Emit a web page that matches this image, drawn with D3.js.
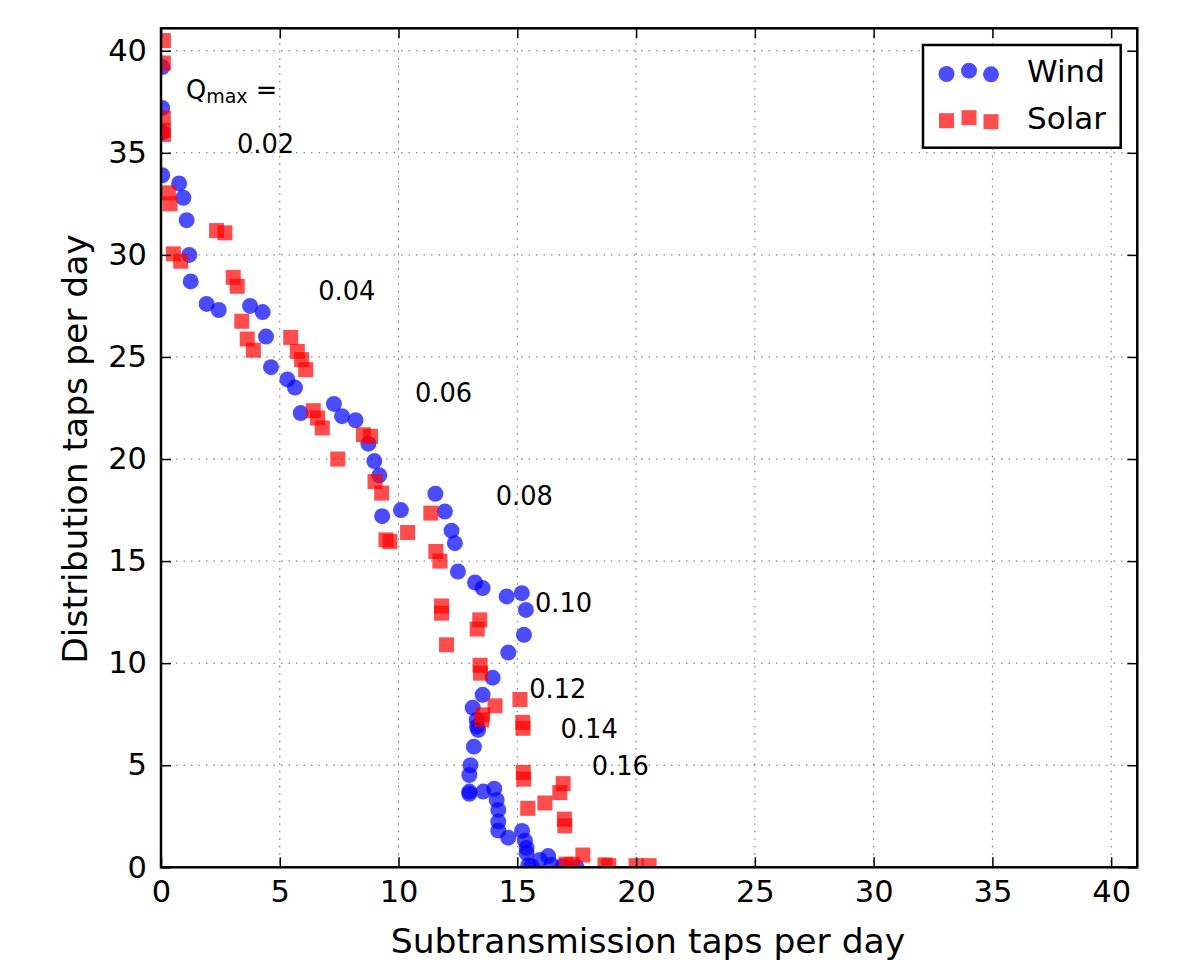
<!DOCTYPE html>
<meta charset="utf-8">

<style>
body { margin: 0; background: #fff; }
text { font-family: "DejaVu Sans", sans-serif; }
.grid line { stroke: #666; stroke-width: 1; stroke-dasharray: 1.5,6; }
.tickLabel { font-size: 30.5px; }
.axisLabel { font-size: 34.5px; }
.legendLabel { font-size: 31px; }
.note { font-size: 25.7px; }
</style>

<svg width="1196" height="970"></svg>

<script src="https://cdn.jsdelivr.net/npm/d3@7"></script>
<script>

//data
const windX = [0.05, 0.05, 0.05, 0.05, 0.76, 0.94, 1.08, 1.19, 1.25, 1.92, 2.43, 3.75, 4.28, 4.42, 4.63,
  5.32, 5.64, 5.88, 7.28, 7.62, 8.19, 8.73, 8.98, 9.19, 9.31, 10.1, 11.55, 11.95, 12.23, 12.37, 12.5,
  13.22, 13.54, 14.55, 15.19, 15.36, 15.28, 14.62, 13.96, 13.54, 13.12, 13.29, 13.35, 13.3, 13.17,
  13.03, 12.98, 12.98, 12.98, 13.57, 14.03, 14.13, 14.2, 14.2, 14.2, 14.62, 15.2, 15.32, 15.39, 15.39,
  15.46, 15.95, 16.3, 16.44, 17.5, 15.6, 16.9]
const windY = [39.2, 37.2, 36.0, 33.9, 33.5, 32.8, 31.7, 30.0, 28.7, 27.6, 27.3, 27.5, 27.2, 26.0, 24.5,
  23.9, 23.5, 22.25, 22.7, 22.1, 21.9, 20.75, 19.9, 19.2, 17.2, 17.5, 18.3, 17.43, 16.49, 15.88, 14.49,
  13.95, 13.68, 13.27, 13.43, 12.61, 11.39, 10.52, 9.29, 8.45, 7.82, 7.22, 6.73, 6.9, 5.91,
  5.0, 4.52, 3.71, 3.6, 3.71, 3.85, 3.3, 2.81, 2.24, 1.8, 1.45, 1.78, 1.3, 0.95, 0.69,
  0.1, 0.36, 0.55, 0.12, 0.0, 0.05, 0.05]

const solarX = [0.1, 0.1, 0.1, 0.1, 0.1, 0.31, 0.38, 0.52, 0.83, 2.34, 2.69, 3.04, 3.21, 3.4, 3.63, 3.89,
  5.46, 5.74, 5.92, 6.09, 6.41, 6.59, 6.79, 7.44, 8.52, 8.82, 9.01, 9.29, 9.47, 9.64, 10.38, 11.36,
  11.57, 11.74, 11.81, 11.81, 12.02, 13.42, 13.31, 13.43, 13.45, 13.54, 13.5, 14.06, 15.11, 15.23,
  15.24, 15.25, 15.27, 15.44, 16.16, 16.79, 16.93, 16.98, 17.0, 17.76, 17.05, 17.3, 18.69, 18.85,
  20.0, 20.55]
const solarY = [40.5, 39.4, 36.7, 36.1, 35.9, 33.04, 32.5, 30.05, 29.69, 31.19, 31.08, 28.9, 28.46, 26.75, 25.88, 25.33,
  25.96, 25.27, 24.87, 24.38, 22.37, 22.01, 21.52, 20.0, 21.19, 21.11, 18.9, 18.33, 16.04, 15.96, 16.4, 17.35,
  15.47, 15.0, 12.8, 12.45, 10.9, 12.12, 11.67, 9.9, 9.51, 7.47, 7.22, 7.91, 8.22, 7.1,
  6.81, 4.65, 4.32, 2.89, 3.15, 3.66, 4.1, 2.36, 2.03, 0.6, 0.15, 0.15, 0.12, 0.08,
  0.08, 0.08]

//Q_max annotations: label, x, y (data units, left / baseline)
const qLabels = ["0.02", "0.04", "0.06", "0.08", "0.10", "0.12", "0.14", "0.16"]
const qX = [3.2, 6.62, 10.69, 14.09, 15.74, 15.5, 16.82, 18.13]
const qY = [35.0, 27.8, 22.8, 17.76, 12.5, 8.28, 6.32, 4.52]

const ticks = [0, 5, 10, 15, 20, 25, 30, 35, 40]

/////////////////////////////////////////////////
const svg = d3.select("svg")
const margin = {left: 161, top: 28.3, right: 1196 - 1137.3, bottom: 970 - 867.3}
const width = 1196 - margin.left - margin.right,
    height = 970 - margin.top - margin.bottom

const x = d3.scaleLinear().domain([0, 41.1]).range([0, width])
const y = d3.scaleLinear().domain([0, 41.1]).range([height, 0])

const g = svg.append("g")
    .attr("transform", `translate(${margin.left}, ${margin.top})`)

svg.append("defs").append("clipPath")
    .attr("id", "plotClip")
  .append("rect")
    .attr("width", width)
    .attr("height", height)

//dotted grid
const grid = g.append("g").attr("class", "grid")
grid.selectAll(".gx").data(ticks.slice(1)).enter().append("line")
    .attr("x1", d => x(d)).attr("x2", d => x(d))
    .attr("y1", 0).attr("y2", height)
grid.selectAll(".gy").data(ticks.slice(1)).enter().append("line")
    .attr("y1", d => y(d)).attr("y2", d => y(d))
    .attr("x1", 0).attr("x2", width)

//points
const pts = g.append("g").attr("clip-path", "url(#plotClip)")
pts.selectAll(".wind")
    .data(windX.map((d, i) => [d, windY[i]]))
    .enter().append("circle")
    .attr("cx", d => x(d[0]))
    .attr("cy", d => y(d[1]))
    .attr("r", 8)
    .attr("fill", "blue")
    .attr("fill-opacity", 0.7)

const sq = 15
pts.selectAll(".solar")
    .data(solarX.map((d, i) => [d, solarY[i]]))
    .enter().append("rect")
    .attr("x", d => x(d[0]) - sq / 2)
    .attr("y", d => y(d[1]) - sq / 2)
    .attr("width", sq)
    .attr("height", sq)
    .attr("fill", "red")
    .attr("fill-opacity", 0.7)

//inward ticks on all four sides
const tickLen = 10
const axisBottom = d3.axisBottom(x).tickValues(ticks).tickSizeInner(-tickLen).tickSizeOuter(0).tickPadding(13)
const axisTop = d3.axisTop(x).tickValues(ticks).tickSizeInner(-tickLen).tickSizeOuter(0).tickFormat("")
const axisLeft = d3.axisLeft(y).tickValues(ticks).tickSizeInner(-tickLen).tickSizeOuter(0).tickPadding(14)
const axisRight = d3.axisRight(y).tickValues(ticks).tickSizeInner(-tickLen).tickSizeOuter(0).tickFormat("")

function styleAxis(sel) {
  sel.select(".domain").remove()
  sel.selectAll(".tick line").attr("stroke", "#000").attr("stroke-width", 1.5)
  sel.selectAll(".tick text")
      .attr("class", "tickLabel")
      .attr("fill", "#000")
      .attr("font-family", "DejaVu Sans")
}

g.append("g").attr("transform", `translate(0, ${height})`).call(axisBottom).call(styleAxis)
g.append("g").call(axisTop).call(styleAxis)
g.append("g").call(axisLeft).call(styleAxis)
g.append("g").attr("transform", `translate(${width}, 0)`).call(axisRight).call(styleAxis)

//frame
g.append("rect")
    .attr("width", width)
    .attr("height", height)
    .attr("fill", "none")
    .attr("stroke", "#000")
    .attr("stroke-width", 2.5)

//Q_max annotations
const qm = g.append("text")
    .attr("class", "note")
    .attr("x", x(1.05))
    .attr("y", y(37.66))
qm.append("tspan").text("Q")
qm.append("tspan").attr("font-size", "19px").attr("dy", 4).text("max")
qm.append("tspan").attr("dy", -4).text(" =")

g.selectAll(".qlab")
    .data(qLabels)
    .enter().append("text")
    .attr("class", "note")
    .attr("x", (d, i) => x(qX[i]))
    .attr("y", (d, i) => y(qY[i]))
    .text(d => d)

//axis labels
svg.append("text")
    .attr("class", "axisLabel")
    .attr("x", 648)
    .attr("y", 953)
    .attr("text-anchor", "middle")
    .text("Subtransmission taps per day")

svg.append("text")
    .attr("class", "axisLabel")
    .attr("transform", "translate(87, 449) rotate(-90)")
    .attr("text-anchor", "middle")
    .text("Distribution taps per day")

//legend
const legend = svg.append("g")
legend.append("rect")
    .attr("x", 923).attr("y", 45)
    .attr("width", 197.7).attr("height", 102.7)
    .attr("fill", "#fff")
    .attr("stroke", "#000")
    .attr("stroke-width", 2.5)

const legendX = [946.5, 969, 991]
const windOff = [74, 70.7, 74.3]
const solarOff = [120.7, 117.7, 121.7]

legend.selectAll(".lw").data(legendX).enter().append("circle")
    .attr("cx", d => d)
    .attr("cy", (d, i) => windOff[i])
    .attr("r", 8)
    .attr("fill", "blue")
    .attr("fill-opacity", 0.7)
legend.selectAll(".ls").data(legendX).enter().append("rect")
    .attr("x", d => d - sq / 2)
    .attr("y", (d, i) => solarOff[i] - sq / 2)
    .attr("width", sq).attr("height", sq)
    .attr("fill", "red")
    .attr("fill-opacity", 0.7)

legend.append("text").attr("class", "legendLabel").attr("x", 1027).attr("y", 82).text("Wind")
legend.append("text").attr("class", "legendLabel").attr("x", 1027).attr("y", 129).text("Solar")

</script>
